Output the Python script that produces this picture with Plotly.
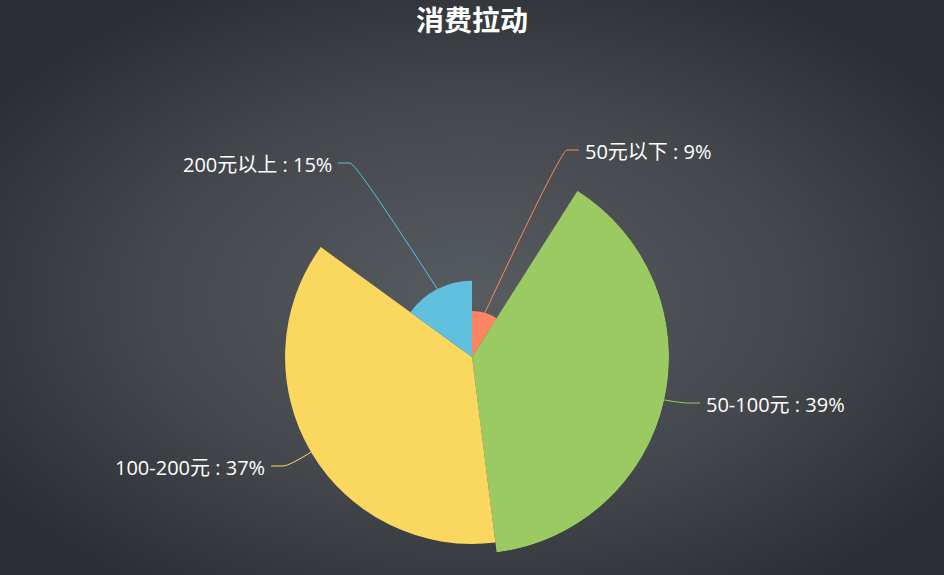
import base64
import math
import plotly.graph_objects as go

# ---- data ----
categories = ["50元以下", "50-100元", "100-200元", "200元以上"]
values = [9, 39, 37, 15]
colors = ["#FE8463", "#9BCA63", "#FAD860", "#60C0DD"]

W, H = 944, 575
CX, CY, R = 472, 357, 197          # pie centre / max radius (px)
R_MIN = 46                          # radius of smallest slice (px)

total = sum(values)
vmin, vmax = min(values), max(values)
widths = [v / total * 360 for v in values]
thetas = []
acc = 0
for w in widths:
    thetas.append(acc + w / 2)
    acc += w
radii = [(R_MIN + (v - vmin) / (vmax - vmin) * (R - R_MIN)) / R for v in values]
pct = [round(v / total * 100) for v in values]

fig = go.Figure()
fig.add_trace(go.Barpolar(
    r=radii, theta=thetas, width=widths,
    marker=dict(color=colors, line=dict(width=0)),
    hoverinfo="skip",
))

# background radial gradient
svg = f'''<svg xmlns="http://www.w3.org/2000/svg" width="{W}" height="{H}">
<defs><radialGradient id="g" cx="50%" cy="52%" r="62%">
<stop offset="0" stop-color="#575c61"/><stop offset="0.55" stop-color="#44484d"/>
<stop offset="1" stop-color="#2a2d31"/></radialGradient></defs>
<rect width="{W}" height="{H}" fill="url(#g)"/></svg>'''
src = "data:image/svg+xml;base64," + base64.b64encode(svg.encode()).decode()

def px(x, y):
    return x / W, (H - y) / H

FONT = "Open Sans, Noto Sans CJK SC, sans-serif"

# label layout (elbow px position, horizontal direction)
elbows = [(561, 150, 1), (682, 403, 1), (289, 466, -1), (356, 163, -1)]
shapes = []
annotations = []
for i, cat in enumerate(categories):
    a = math.radians(thetas[i])
    rr = radii[i] * R
    sx, sy = CX + rr * math.sin(a), CY - rr * math.cos(a)
    ex, ey, d = elbows[i]
    hx = ex + 18 * d
    p0 = px(sx, sy)
    pc = px(ex, ey)
    pe = px(ex + 6 * d, ey)
    p2 = px(hx, ey)
    shapes.append(dict(
        type="path", xref="paper", yref="paper",
        path=f"M {p0[0]} {p0[1]} Q {pc[0]} {pc[1]} {pe[0]} {pe[1]} L {p2[0]} {p2[1]}",
        line=dict(color=colors[i], width=1), layer="below",
    ))
    tx, ty = px(hx + 4 * d, ey + 1)
    annotations.append(dict(
        x=tx, y=ty, xref="paper", yref="paper", showarrow=False,
        text=f"{cat} : {pct[i]}%",
        xanchor="left" if d > 0 else "right", yanchor="middle",
        font=dict(size=20, color="#ffffff", family=FONT),
    ))

annotations.append(dict(
    x=0.5, y=1 - 19 / H, xref="paper", yref="paper", showarrow=False,
    text="<b>消费拉动</b>", xanchor="center", yanchor="middle",
    font=dict(size=28, color="#ffffff", family="Noto Sans CJK SC"),
))

fig.update_layout(
    width=W, height=H,
    margin=dict(l=0, r=0, t=0, b=0),
    paper_bgcolor="#2e3135",
    showlegend=False,
    images=[dict(source=src, xref="paper", yref="paper", x=0, y=1,
                 sizex=1, sizey=1, sizing="stretch", layer="below")],
    polar=dict(
        domain=dict(x=[(CX - R) / W, (CX + R) / W], y=[(H - CY - R) / H, (H - CY + R) / H]),
        bgcolor="rgba(0,0,0,0)",
        radialaxis=dict(visible=False, range=[0, 1]),
        angularaxis=dict(visible=False, rotation=90, direction="clockwise"),
        bargap=0,
    ),
    shapes=shapes,
    annotations=annotations,
)
fig.write_html(
    "out.html",
    config={"displayModeBar": False},
    post_script="document.body.style.margin='0';document.body.style.overflow='hidden';",
)
